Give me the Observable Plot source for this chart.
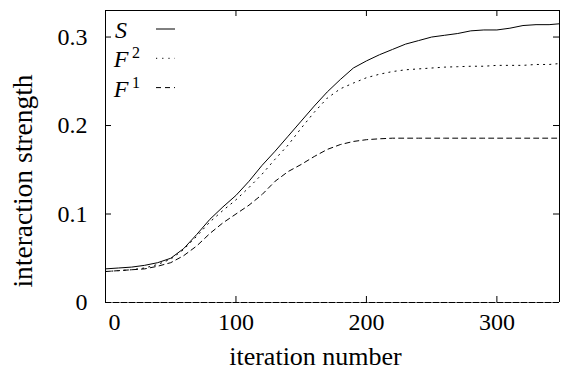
<!DOCTYPE html>
<html>
<head>
<meta charset="utf-8">
<script src="https://cdn.jsdelivr.net/npm/d3@7"></script>
<script src="https://cdn.jsdelivr.net/npm/@observablehq/plot@0.6"></script>
<style>
  html, body { margin: 0; padding: 0; background: #fff; }
  #chart svg { display: block; }
  #chart svg, #chart svg text { font-family: "Liberation Serif", "Times New Roman", serif !important; }
</style>
</head>
<body>
<div id="chart"></div>
<script>
// ---- data ----
const iterations = [0,10,20,30,40,50,60,70,80,90,100,110,120,130,140,150,160,170,180,190,200,210,220,230,240,250,260,270,280,290,300,310,320,330,340,348];
const S  = [0.038,0.039,0.040,0.042,0.045,0.050,0.061,0.077,0.094,0.108,0.121,0.137,0.155,0.171,0.188,0.205,0.222,0.238,0.252,0.265,0.273,0.280,0.286,0.292,0.296,0.300,0.302,0.304,0.307,0.308,0.308,0.310,0.313,0.314,0.314,0.315];
const F2 = [0.035,0.036,0.037,0.039,0.043,0.049,0.060,0.075,0.091,0.104,0.116,0.130,0.145,0.162,0.178,0.197,0.215,0.231,0.2415,0.248,0.254,0.258,0.261,0.263,0.264,0.265,0.266,0.2665,0.267,0.267,0.268,0.268,0.268,0.269,0.269,0.270];
const F1 = [0.035,0.036,0.037,0.038,0.041,0.045,0.053,0.064,0.078,0.090,0.100,0.110,0.122,0.137,0.148,0.156,0.165,0.173,0.1785,0.182,0.184,0.185,0.1857,0.1857,0.1857,0.1857,0.1857,0.1857,0.1857,0.1857,0.1857,0.1857,0.1857,0.1857,0.1857,0.1857];
const seriesNames = ["S", "F2", "F1"];
const legendBase = ["S", "F", "F"];
const legendSup = ["", "2", "1"];
const xTicks = [0, 100, 200, 300];
const yTicks = [0, 0.1, 0.2, 0.3];
const xDomain = [0, 348];
const yDomain = [0, 0.33];
const xLabel = "iteration number";
const yLabel = "interaction strength";

// ---- layout / style ----
const W = 561, H = 376;
const mL = 105, mR = 2, mT = 10, mB = 74;
const plotW = W - mL - mR, plotH = H - mT - mB;
const font = '"Liberation Serif", "Times New Roman", serif';
const dashes = {S: null, F2: "1.2,5", F1: "5,4"};

const values = {S, F2, F1};
const rows = seriesNames.flatMap(name => iterations.map((it, i) => ({series: name, x: it, y: values[name][i]})));

const legend = () => {
  const g = d3.create("svg:g").attr("font-family", font);
  seriesNames.forEach((name, i) => {
    const base = mT + 28 + i * 29.3;
    g.append("text").attr("x", mL + 16).attr("y", base)
      .attr("font-size", 24).attr("font-style", "italic").attr("fill", "black").text(legendBase[i]);
    if (legendSup[i]) {
      g.append("text").attr("x", mL + 31).attr("y", base - 9)
        .attr("font-size", 16).attr("fill", "black").text(legendSup[i]);
    }
    g.append("line").attr("x1", mL + 51).attr("x2", mL + 70)
      .attr("y1", base - 9).attr("y2", base - 9)
      .attr("stroke", "black").attr("stroke-width", 1)
      .attr("stroke-dasharray", dashes[name]);
  });
  return g.node();
};

const txt = {fill: "black", fontFamily: font};

const chart = Plot.plot({
  width: W,
  height: H,
  marginLeft: mL,
  marginRight: mR,
  marginTop: mT,
  marginBottom: mB,
  style: {fontFamily: font, background: "white"},
  x: {domain: xDomain, axis: null},
  y: {domain: yDomain, axis: null},
  marks: [
    // frame: top, left, right solid; bottom (zero axis) dashed
    Plot.ruleY([yDomain[1]], {stroke: "black", strokeWidth: 1}),
    Plot.ruleX(xDomain, {stroke: "black", strokeWidth: 1}),
    Plot.ruleY([0], {stroke: "#777", strokeWidth: 1}),
    Plot.ruleY([0], {stroke: "black", strokeWidth: 1.2, strokeDasharray: "6,2"}),
    // inward ticks
    Plot.tickX(xTicks.slice(1), {x: d => d, stroke: "black", insetTop: plotH - 6}),
    Plot.tickX(xTicks.slice(1), {x: d => d, stroke: "black", insetBottom: plotH - 6}),
    Plot.tickY(yTicks.slice(1), {y: d => d, stroke: "black", insetRight: plotW - 6}),
    Plot.tickY(yTicks.slice(1), {y: d => d, stroke: "black", insetLeft: plotW - 6}),
    // tick labels
    Plot.text(xTicks.slice(1), {x: d => d, frameAnchor: "bottom", dy: 27, text: d => String(d), fontSize: 24, ...txt}),
    Plot.text(xTicks.slice(0, 1), {x: d => d, frameAnchor: "bottom", dy: 27, dx: 9, text: d => String(d), fontSize: 24, ...txt}),
    Plot.text(yTicks, {y: d => d, frameAnchor: "left", textAnchor: "end", dx: -18, text: d => d === 0 ? "0" : d3.format(".1f")(d), fontSize: 24, ...txt}),
    // axis titles
    Plot.text([xLabel], {frameAnchor: "bottom", textAnchor: "middle", dx: -17, dy: 62, text: d => d, fontSize: 26, ...txt}),
    Plot.text([yLabel], {frameAnchor: "left", textAnchor: "middle", dx: -82.5, dy: 24.5, rotate: -90, text: d => d, fontSize: 27.5, ...txt}),
    // data lines
    ...seriesNames.map(name => Plot.line(rows.filter(d => d.series === name), {
      x: "x", y: "y", stroke: "black", strokeWidth: 1, strokeDasharray: dashes[name]
    })),
    legend
  ]
});

document.getElementById("chart").appendChild(chart);
</script>
</body>
</html>
